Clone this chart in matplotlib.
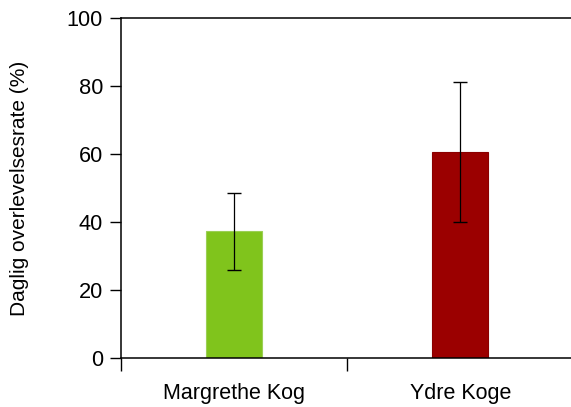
import matplotlib
matplotlib.use("Agg")
import matplotlib.pyplot as plt
from matplotlib.ticker import FixedLocator

plt.rcParams['font.family'] = ['Liberation Sans', 'DejaVu Sans']

categories = ["Margrethe Kog", "Ydre Koge"]
survival = [37.3, 60.6]
errors = [11.3, 20.6]
bar_colors = ["#80C41C", "#9B0000"]
edge_colors = ["#9BCF55", "#8A0000"]
y_ticks = [0, 20, 40, 60, 80, 100]

fig = plt.figure(figsize=(5.71, 4.07), dpi=100)
ax = fig.add_axes([121 / 571, 49 / 407, 450 / 571, 340 / 407])

x = list(range(len(categories)))
ax.bar(x, survival, width=0.25, color=bar_colors, edgecolor=edge_colors,
       linewidth=0.8, zorder=2)
ax.errorbar(x, survival, yerr=errors, fmt="none", ecolor="black",
            elinewidth=0.9, capsize=4.8, capthick=1.0, zorder=3)

ax.set_xlim(-0.5, 1.49)
ax.set_ylim(0, 100)
ax.set_yticks(y_ticks)
ax.set_xticks(x)
ax.set_xticklabels(categories, fontsize=15.5)
ax.tick_params(axis='x', which='major', length=0, pad=18)
ax.xaxis.set_minor_locator(FixedLocator([-0.5, 0.5]))
ax.tick_params(axis='x', which='minor', length=9, width=1.0, direction='out')
ax.tick_params(axis='y', length=8, width=1.0, direction='out', labelsize=15.7, pad=5)

for side in ["left", "bottom", "top"]:
    ax.spines[side].set_linewidth(1.1)
ax.spines["right"].set_visible(False)

ax.set_ylabel("Daglig overlevelsesrate (%)", fontsize=15, labelpad=27)

fig.savefig("out.png", dpi=100)
